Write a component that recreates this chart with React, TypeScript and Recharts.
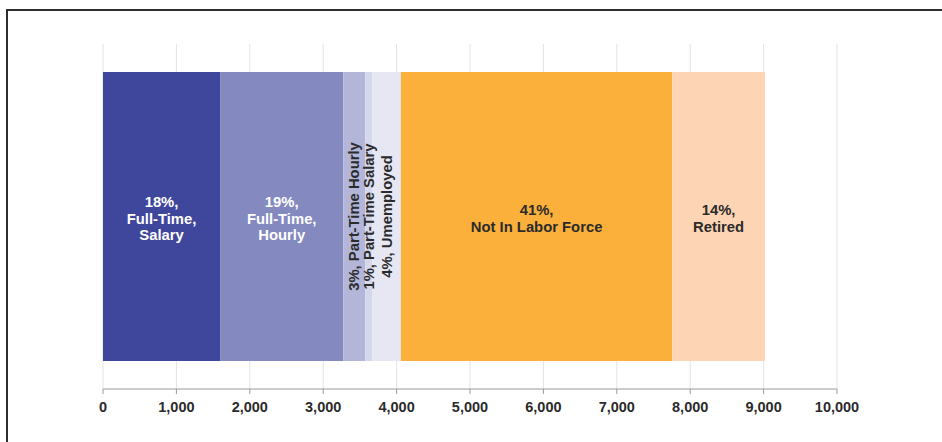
import React from "react"
import { BarChart, Bar, XAxis, YAxis, CartesianGrid } from "recharts"

// one stacked row, values
const categories = ["Population"]
const seriesKeys = ["ftSalary", "ftHourly", "ptHourly", "ptSalary", "unemployed", "notInLabor", "retired"]
const seriesValues = [1595, 1679, 300, 92, 393, 3697, 1262]
const seriesLabels = [
  ["18%,", "Full-Time,", "Salary"],
  ["19%,", "Full-Time,", "Hourly"],
  ["3%, Part-Time Hourly"],
  ["1%, Part-Time Salary"],
  ["4%, Umemployed"],
  ["41%,", "Not In Labor Force"],
  ["14%,", "Retired"],
]
const seriesColors = ["#3f479c", "#8489c0", "#b3b6d9", "#d5d7eb", "#e6e7f2", "#fbb03b", "#fdd5b4"]
const labelColors = ["#ffffff", "#ffffff", "#2b2b2b", "#2b2b2b", "#2b2b2b", "#2b2b2b", "#2b2b2b"]
const verticalLabel = [false, false, true, true, true, false, false]
const xTicks = [0, 1000, 2000, 3000, 4000, 5000, 6000, 7000, 8000, 9000, 10000]

const data = categories.map((name) => {
  const row: Record<string, string | number> = { name }
  seriesKeys.forEach((k, i) => (row[k] = seriesValues[i]))
  return row
})

const FONT = "'Liberation Sans', Arial, sans-serif"

function makeLabel(i: number) {
  return (props: any) => {
    const vb = props.viewBox || {}
    const x = Number(props.x ?? vb.x)
    const y = Number(props.y ?? vb.y)
    const w = Number(props.width ?? vb.width)
    const h = Number(props.height ?? vb.height)
    const cx = x + w / 2
    const cy = y + h / 2
    const lines = seriesLabels[i]
    const lh = 16.5
    if (verticalLabel[i]) {
      return (
        <text
          x={cx}
          y={cy}
          transform={`rotate(-90 ${cx} ${cy})`}
          textAnchor="middle"
          dominantBaseline="central"
          fill={labelColors[i]}
          fontFamily={FONT}
          fontWeight="bold"
          fontSize={14.8}
        >
          {lines[0]}
        </text>
      )
    }
    const start = cy + 2 - ((lines.length - 1) * lh) / 2
    return (
      <text textAnchor="middle" fill={labelColors[i]} fontFamily={FONT} fontWeight="bold" fontSize={14.8}>
        {lines.map((l, j) => (
          <tspan key={j} x={cx} y={start + j * lh} dominantBaseline="central">
            {l}
          </tspan>
        ))}
      </text>
    )
  }
}

export default function App() {
  return (
    <div style={{ position: "absolute", left: 0, top: 0, width: 942, height: 442, background: "#fff" }}>
      <div
        style={{
          position: "absolute",
          left: 6,
          top: 9,
          width: 942,
          height: 442,
          borderTop: "2px solid #2e2e2e",
          borderLeft: "2px solid #2e2e2e",
        }}
      />
      <div style={{ position: "absolute", left: 0, top: 0 }}>
        <BarChart
          width={942}
          height={442}
          data={data}
          layout="vertical"
          margin={{ top: 44, right: 105, left: 103, bottom: 23 }}
          barCategoryGap={28}
        >
          <CartesianGrid horizontal={false} stroke="#e3e3e3" />
          <XAxis
            type="number"
            domain={[0, 10000]}
            ticks={xTicks}
            tickFormatter={(v: number) => v.toLocaleString("en-US")}
            axisLine={{ stroke: "#9a9a9a" }}
            tickLine={{ stroke: "#9a9a9a" }}
            tickSize={5}
            tickMargin={8}
            tick={{ fill: "#2b2b2b", fontFamily: FONT, fontWeight: "bold", fontSize: 14.5 }}
            interval={0}
          />
          <YAxis type="category" dataKey="name" hide />
          {seriesKeys.map((k, i) => (
            <Bar
              key={k}
              dataKey={k}
              stackId="a"
              fill={seriesColors[i]}
              isAnimationActive={false}
              label={makeLabel(i)}
            />
          ))}
        </BarChart>
      </div>
    </div>
  )
}
